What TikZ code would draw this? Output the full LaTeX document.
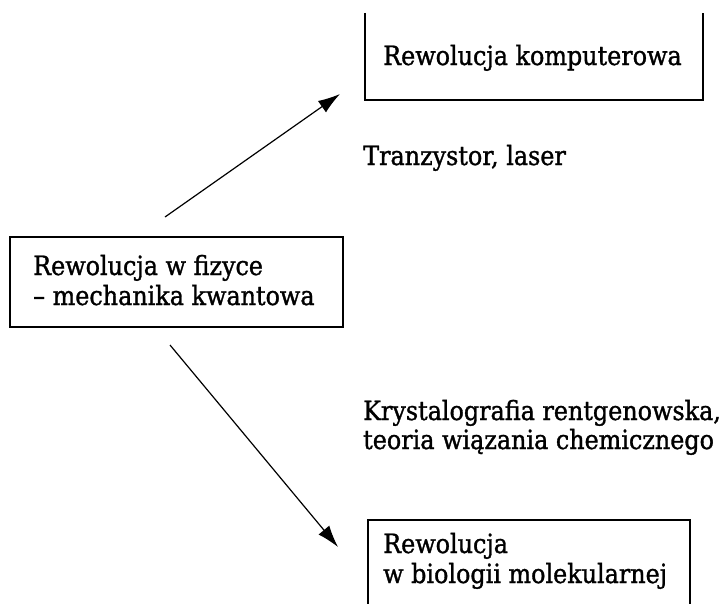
\documentclass[tikz,border=0pt]{standalone}
\usepackage{fontspec}
\setmainfont{DejaVu Serif}[FakeStretch=0.9, FakeBold=1.2]
\usetikzlibrary{arrows.meta}
\tikzset{
  lbl/.style={anchor=base west, inner sep=0pt, font=\fontsize{26.5}{30}\selectfont},
  boxline/.style={line width=1.5pt},
  frame/.style={inner sep=0pt, draw=none},
  arr/.style={line width=1.2pt, -{Latex[length=22pt,width=14pt]}},
}
\begin{document}
\begin{tikzpicture}[x=1pt,y=-1pt]
\useasboundingbox (0,0) rectangle (727,603);
% boxes
\node[frame, minimum width=338pt, minimum height=87pt] (comp) at (534,56.5) {};
\draw[boxline] (comp.north west) -- (comp.south west) -- (comp.south east) -- (comp.north east);
\node[frame, draw, boxline, minimum width=333pt, minimum height=90pt] (phys) at (176.5,282) {};
\node[frame, minimum width=322pt, minimum height=85pt] (bio) at (529,562.5) {};
\draw[boxline] (bio.south west) -- (bio.north west) -- (bio.north east) -- (bio.south east);
% texts
\node[lbl] (tcomp) at (383,65) {Rewolucja komputerowa};
\node[lbl] (tlaser) at (363,165) {Tranzystor, laser};
\node[lbl] (tphys1) at (33,275) {Rewolucja w fizyce};
\node[lbl] (tphys2) at (33,305) {– mechanika kwantowa};
\node[lbl] (tkr1) at (363,420) {Krystalografia rentgenowska,};
\node[lbl] (tkr2) at (363,449) {teoria wiązania chemicznego};
\node[lbl] (tbio1) at (383,553) {Rewolucja};
\node[lbl] (tbio2) at (383,583) {w biologii molekularnej};
% arrows
\coordinate (a1s) at (165,217);
\coordinate (a1e) at (340,94);
\coordinate (a2s) at (170,345);
\coordinate (a2e) at (338,547);
\draw[arr] (a1s) -- (a1e);
\draw[arr] (a2s) -- (a2e);
\end{tikzpicture}
\end{document}
